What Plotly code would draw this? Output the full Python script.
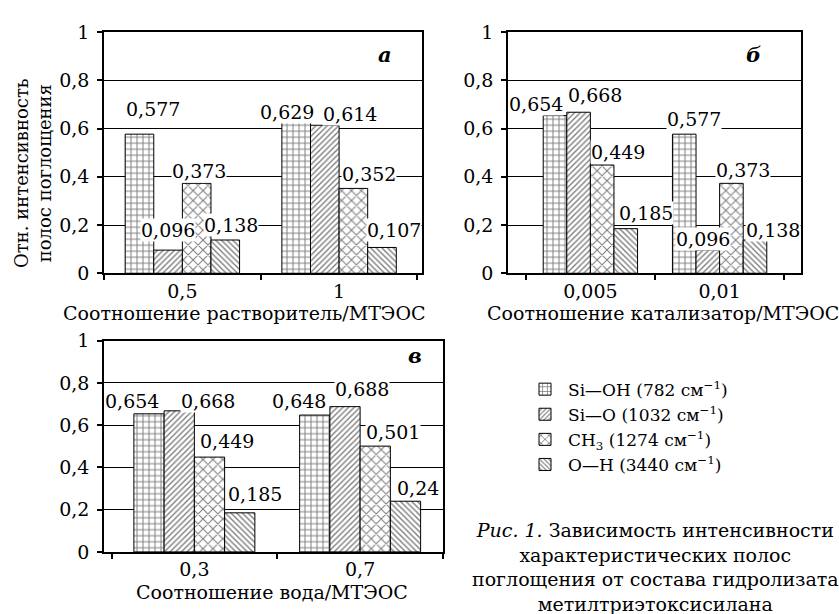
import plotly.graph_objects as go

W, H = 839, 614

# ---------------- data ----------------
series_names = [
    "Si—OH (782 см<sup>−1</sup>)",
    "Si—O (1032 см<sup>−1</sup>)",
    "CH<sub>3</sub> (1274 см<sup>−1</sup>)",
    "O—H (3440 см<sup>−1</sup>)",
]

cats_a = ["0,5", "1"]
vals_a = [[0.577, 0.629], [0.096, 0.614], [0.373, 0.352], [0.138, 0.107]]

cats_b = ["0,005", "0,01"]
vals_b = [[0.654, 0.577], [0.668, 0.096], [0.449, 0.373], [0.185, 0.138]]

cats_c = ["0,3", "0,7"]
vals_c = [[0.654, 0.648], [0.668, 0.688], [0.449, 0.501], [0.185, 0.24]]

y_ticks = [0, 0.2, 0.4, 0.6, 0.8, 1]

# ---------------- style ----------------
FONT = "DejaVu Serif"
patterns = [
    dict(shape="+", size=6, solidity=0.3),
    dict(shape="/", size=4, solidity=0.35),
    dict(shape="x", size=7, solidity=0.28),
    dict(shape="\\", size=4, solidity=0.35),
]
BARGAP = 0.27
# label nudges in pixels (dx, height of label centre above bar top), per series / category
nudge_a = [[(14, 25), (-9, 10)], [(0, 20), (25, 11)], [(2, 12), (16, 14)], [(6, 15), (12, 17)]]
nudge_b = [[(-19, 12), (10, 15)], [(16, 17), (-5, 11)], [(16, 13), (12, 13)], [(20, 16), (18, 10)]]
nudge_c = [[(-17, 13), (-16, 14)], [(29, 10), (17, 18)], [(17, 16), (18, 14)], [(15, 19), (12, 13)]]

# plot areas in pixels (left, top, right, bottom)
areas = {
    "": (104, 22, 422, 272),
    "2": (508, 22, 801, 272),
    "3": (104, 342, 443, 561),
}

fig = go.Figure()
annotations = []

panels = [("", cats_a, vals_a, nudge_a), ("2", cats_b, vals_b, nudge_b), ("3", cats_c, vals_c, nudge_c)]
nser = len(series_names)
bw = (1 - BARGAP) / nser
for suffix, cats, vals, nudges in panels:
    for i, name in enumerate(series_names):
        fig.add_trace(go.Bar(
            x=cats, y=vals[i], name=name,
            xaxis="x" + suffix, yaxis="y" + suffix,
            showlegend=(suffix == ""),
            marker=dict(color="white", line=dict(color="black", width=1),
                        pattern=dict(fgcolor="black", bgcolor="white", **patterns[i])),
            hoverinfo="skip",
        ))
        for j, v in enumerate(vals[i]):
            dx, dy = nudges[i][j]
            annotations.append(dict(
                x=j + (i - (nser - 1) / 2) * bw, y=v,
                xref="x" + suffix, yref="y" + suffix,
                text=str(v).replace(".", ","), showarrow=False,
                xanchor="center", yanchor="middle", xshift=dx, yshift=dy,
                bgcolor="white", borderpad=0,
                font=dict(family=FONT, size=19, color="black"),
            ))

axis_common_x = dict(type="category", showline=True, linecolor="black", linewidth=1.5,
                     mirror=True, ticks="outside", tickson="boundaries", ticklen=5,
                     tickcolor="black", tickwidth=1.5, showgrid=False,
                     tickfont=dict(family=FONT, size=19, color="black"), fixedrange=True)
axis_common_y = dict(range=[0, 1], tickvals=y_ticks, showline=True, linecolor="black",
                     linewidth=1.5, mirror=True, ticks="outside", ticklen=5, tickcolor="black",
                     tickwidth=1.5, showgrid=True, gridcolor="black", gridwidth=1,
                     zeroline=False, ticklabelstandoff=4,
                     tickfont=dict(family=FONT, size=19, color="black"), fixedrange=True)

layout_axes = {}
for suffix, (l, t, r, b) in areas.items():
    layout_axes["xaxis" + suffix] = dict(axis_common_x, domain=[l / W, r / W],
                                         anchor="y" + suffix)
    layout_axes["yaxis" + suffix] = dict(axis_common_y, domain=[1 - b / H, 1 - t / H],
                                         anchor="x" + suffix)

def paper(px, py):
    return px / W, 1 - py / H

texts = [
    ("Соотношение растворитель/МТЭОС", 244, 313, 19, 0),
    ("Соотношение катализатор/МТЭОС", 663, 313, 19, 0),
    ("Соотношение вода/МТЭОС", 272, 603, 19, 0),
    ("Отн. интенсивность<br>полос поглощения", 33, 168, 18, -90),
]
for txt, px, py, fs, ang in texts:
    x, y = paper(px, py)
    annotations.append(dict(x=x, y=y, xref="paper", yref="paper", text=txt, showarrow=False,
                            xanchor="center", yanchor="middle", textangle=ang,
                            font=dict(family=FONT, size=fs, color="black")))

for txt, px, py in [("а", 385, 45), ("б", 753, 45), ("в", 415, 357)]:
    x, y = paper(px, py)
    annotations.append(dict(x=x, y=y, xref="paper", yref="paper", text=f"<b><i>{txt}</i></b>",
                            showarrow=False, xanchor="center", yanchor="middle",
                            font=dict(family=FONT, size=21, color="black")))

cx, cy = paper(655, 525)
annotations.append(dict(
    x=cx, y=cy, xref="paper", yref="paper", showarrow=False, xanchor="center", yanchor="top",
    align="center",
    text="<i>Рис. 1.</i> Зависимость интенсивности<br>характеристических полос<br>"
         "поглощения от состава гидролизата<br>метилтриэтоксисилана",
    font=dict(family=FONT, size=19, color="black"),
))

lx, ly = paper(522, 374)
fig.update_layout(
    width=W, height=H,
    margin=dict(l=0, r=0, t=0, b=0),
    paper_bgcolor="white", plot_bgcolor="white",
    barmode="group", bargap=BARGAP, bargroupgap=0,
    separators=", ",
    showlegend=True,
    legend=dict(x=lx, y=ly, xanchor="left", yanchor="top", bgcolor="rgba(0,0,0,0)",
                itemwidth=36,
                font=dict(family=FONT, size=17, color="black"), tracegroupgap=0),
    annotations=annotations,
    **layout_axes,
)

fig.write_html("out.html", config={"displayModeBar": False},
               post_script="document.body.style.margin='0';document.body.style.overflow='hidden';")
